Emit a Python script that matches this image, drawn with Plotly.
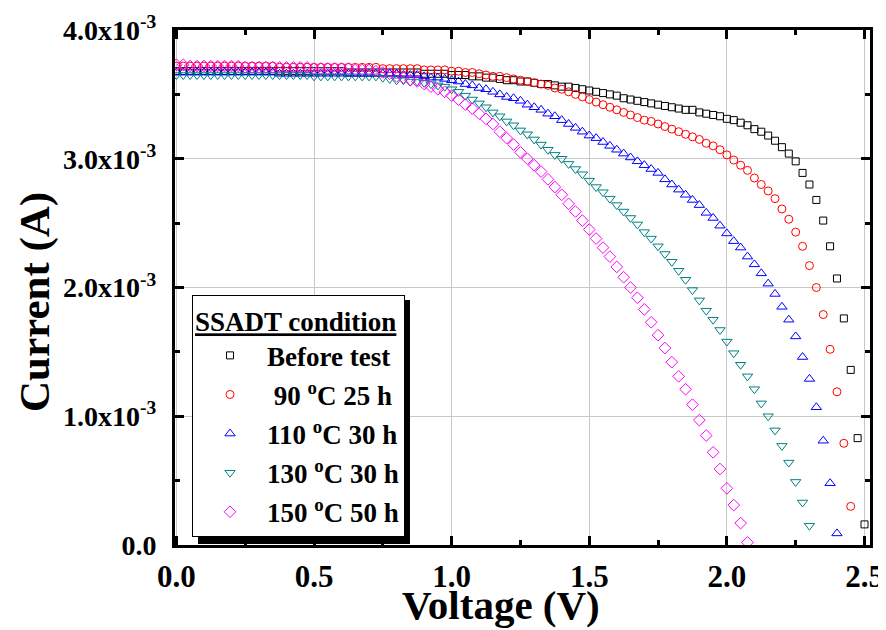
import plotly.graph_objects as go

voltage = [0.000, 0.025, 0.050, 0.075, 0.100, 0.125, 0.150, 0.175, 0.200, 0.225,
           0.250, 0.275, 0.300, 0.325, 0.350, 0.375, 0.400, 0.425, 0.450, 0.475,
           0.500, 0.525, 0.550, 0.575, 0.600, 0.625, 0.650, 0.675, 0.700, 0.725,
           0.750, 0.775, 0.800, 0.825, 0.850, 0.875, 0.900, 0.925, 0.950, 0.975,
           1.000, 1.025, 1.050, 1.075, 1.100, 1.125, 1.150, 1.175, 1.200, 1.225,
           1.250, 1.275, 1.300, 1.325, 1.350, 1.375, 1.400, 1.425, 1.450, 1.475,
           1.500, 1.525, 1.550, 1.575, 1.600, 1.625, 1.650, 1.675, 1.700, 1.725,
           1.750, 1.775, 1.800, 1.825, 1.850, 1.875, 1.900, 1.925, 1.950, 1.975,
           2.000, 2.025, 2.050, 2.075, 2.100, 2.125, 2.150, 2.175, 2.200, 2.225,
           2.250, 2.275, 2.300, 2.325, 2.350, 2.375, 2.400, 2.425, 2.450, 2.475,
           2.500]

# currents in mA
before_test = [3.68, 3.68, 3.68, 3.68, 3.68, 3.68, 3.68, 3.68, 3.68, 3.68,
               3.68, 3.68, 3.68, 3.68, 3.68, 3.68, 3.68, 3.68, 3.68, 3.68,
               3.68, 3.68, 3.68, 3.68, 3.68, 3.67, 3.67, 3.67, 3.67, 3.67,
               3.67, 3.67, 3.67, 3.67, 3.67, 3.67, 3.66, 3.66, 3.66, 3.66,
               3.65, 3.65, 3.65, 3.64, 3.64, 3.63, 3.63, 3.62, 3.61, 3.61,
               3.60, 3.60, 3.59, 3.58, 3.58, 3.57, 3.56, 3.56, 3.55, 3.54,
               3.53, 3.52, 3.51, 3.50, 3.49, 3.47, 3.46, 3.45, 3.44, 3.43,
               3.42, 3.41, 3.40, 3.39, 3.38, 3.38, 3.36, 3.35, 3.34, 3.33,
               3.31, 3.30, 3.28, 3.26, 3.23, 3.21, 3.18, 3.14, 3.09, 3.04,
               2.98, 2.89, 2.80, 2.68, 2.52, 2.32, 2.07, 1.76, 1.36, 0.83,
               0.16]

c90_25h = [3.72, 3.72, 3.72, 3.72, 3.72, 3.72, 3.72, 3.72, 3.72, 3.72,
           3.72, 3.72, 3.72, 3.72, 3.72, 3.71, 3.71, 3.71, 3.71, 3.71,
           3.71, 3.71, 3.71, 3.71, 3.71, 3.71, 3.71, 3.71, 3.71, 3.71,
           3.70, 3.70, 3.70, 3.70, 3.70, 3.70, 3.69, 3.69, 3.69, 3.69,
           3.68, 3.68, 3.67, 3.67, 3.66, 3.65, 3.64, 3.64, 3.63, 3.62,
           3.61, 3.60, 3.59, 3.58, 3.57, 3.55, 3.54, 3.52, 3.50, 3.48,
           3.46, 3.44, 3.42, 3.40, 3.38, 3.36, 3.34, 3.32, 3.30, 3.29,
           3.27, 3.25, 3.23, 3.21, 3.19, 3.17, 3.15, 3.12, 3.10, 3.07,
           3.03, 2.99, 2.95, 2.91, 2.85, 2.80, 2.75, 2.69, 2.61, 2.53,
           2.43, 2.32, 2.17, 2.00, 1.79, 1.52, 1.19, 0.79, 0.30]

c110_30h = [3.67, 3.67, 3.67, 3.67, 3.67, 3.67, 3.67, 3.67, 3.67, 3.67,
            3.67, 3.67, 3.67, 3.67, 3.67, 3.66, 3.66, 3.66, 3.66, 3.66,
            3.66, 3.66, 3.66, 3.66, 3.66, 3.66, 3.66, 3.66, 3.66, 3.66,
            3.66, 3.66, 3.66, 3.65, 3.65, 3.65, 3.64, 3.63, 3.63, 3.62,
            3.61, 3.60, 3.58, 3.57, 3.55, 3.54, 3.52, 3.50, 3.48, 3.47,
            3.45, 3.42, 3.40, 3.38, 3.35, 3.33, 3.30, 3.27, 3.24, 3.21,
            3.18, 3.16, 3.13, 3.10, 3.07, 3.04, 3.01, 2.98, 2.95, 2.92,
            2.89, 2.84, 2.80, 2.76, 2.72, 2.68, 2.64, 2.58, 2.54, 2.48,
            2.42, 2.36, 2.31, 2.24, 2.18, 2.11, 2.03, 1.95, 1.85, 1.75,
            1.62, 1.46, 1.29, 1.07, 0.81, 0.48, 0.09]

c130_30h = [3.65, 3.65, 3.65, 3.65, 3.65, 3.65, 3.65, 3.65, 3.65, 3.65,
            3.65, 3.65, 3.65, 3.65, 3.65, 3.65, 3.65, 3.65, 3.65, 3.65,
            3.64, 3.64, 3.64, 3.64, 3.64, 3.64, 3.64, 3.64, 3.64, 3.64,
            3.63, 3.62, 3.61, 3.61, 3.60, 3.60, 3.59, 3.58, 3.57, 3.56,
            3.54, 3.52, 3.49, 3.46, 3.43, 3.40, 3.36, 3.33, 3.29, 3.26,
            3.22, 3.19, 3.15, 3.11, 3.07, 3.03, 3.00, 2.96, 2.92, 2.88,
            2.83, 2.78, 2.74, 2.69, 2.64, 2.59, 2.54, 2.49, 2.43, 2.38,
            2.32, 2.26, 2.20, 2.13, 2.06, 1.98, 1.90, 1.82, 1.75, 1.67,
            1.58, 1.49, 1.40, 1.31, 1.21, 1.10, 1.00, 0.89, 0.77, 0.64,
            0.49, 0.33, 0.15]

c150_50h = [3.73, 3.73, 3.72, 3.72, 3.72, 3.72, 3.72, 3.72, 3.72, 3.72,
            3.71, 3.71, 3.71, 3.71, 3.71, 3.71, 3.71, 3.71, 3.71, 3.71,
            3.70, 3.70, 3.70, 3.70, 3.70, 3.70, 3.69, 3.69, 3.69, 3.68,
            3.67, 3.66, 3.64, 3.63, 3.61, 3.60, 3.58, 3.56, 3.54, 3.52,
            3.49, 3.46, 3.42, 3.39, 3.35, 3.31, 3.27, 3.21, 3.16, 3.11,
            3.05, 3.00, 2.95, 2.90, 2.84, 2.78, 2.72, 2.65, 2.59, 2.52,
            2.45, 2.38, 2.31, 2.24, 2.16, 2.08, 2.00, 1.92, 1.83, 1.73,
            1.63, 1.53, 1.42, 1.31, 1.21, 1.09, 0.97, 0.85, 0.72, 0.59,
            0.44, 0.31, 0.17, 0.02]

series_names = ["Before test", " 90 <sup>o</sup>C 25 h", "110 <sup>o</sup>C 30 h",
                "130 <sup>o</sup>C 30 h", "150 <sup>o</sup>C 50 h"]
series_data = [before_test, c90_25h, c110_30h, c130_30h, c150_50h]
series_colors = ["#000000", "#ff0000", "#0000ff", "#008080", "#ff00ff"]
series_symbols = ["square-open", "circle-open", "triangle-up-open",
                  "triangle-down-open", "diamond-open"]
series_sizes = [7, 8, 9, 9, 9]

y_tickvals = [0.0, 1.0e-3, 2.0e-3, 3.0e-3, 4.0e-3]
y_ticktext = ["0.0", "1.0x10<sup>-3</sup>", "2.0x10<sup>-3</sup>",
              "3.0x10<sup>-3</sup>", "4.0x10<sup>-3</sup>"]
x_tickvals = [0.0, 0.5, 1.0, 1.5, 2.0, 2.5]
x_ticktext = ["0.0", "0.5", "1.0", "1.5", "2.0", "2.5"]
x_title = "Voltage (V)"
y_title = "Current (A)"

FONT = "Liberation Serif"

fig = go.Figure()
for i, (name, data, col, sym, sz) in enumerate(zip(series_names, series_data,
                                                   series_colors, series_symbols,
                                                   series_sizes)):
    fig.add_trace(go.Scatter(
        x=voltage[:len(data)],
        y=[v * 1e-3 for v in data],
        mode="markers",
        name=name,
        legendgroup=str(i),
        marker=dict(symbol=sym, size=sz, color=col, line=dict(width=1, color=col)),
    ))

axis_common = dict(
    showline=True, linewidth=3, linecolor="black", mirror="ticks",
    ticks="inside", ticklen=9, tickwidth=3, tickcolor="black",
    showgrid=True, gridcolor="#c8c8c8", gridwidth=1,
    zeroline=False, automargin=False,
)

fig.update_xaxes(
    **axis_common,
    range=[-0.005, 2.52],
    tickvals=x_tickvals, ticktext=x_ticktext,
    tickfont=dict(family=FONT, size=31, color="black", weight="bold"),
    ticklabelstandoff=2,
    minor=dict(ticks="inside", ticklen=5, tickwidth=3, tickcolor="black",
               dtick=0.25, showgrid=False),
)
fig.update_yaxes(
    **axis_common,
    range=[0, 4.0e-3],
    tickvals=y_tickvals, ticktext=y_ticktext,
    tickfont=dict(family=FONT, size=28, color="black", weight="bold"),
    ticklabelstandoff=10,
    minor=dict(ticks="inside", ticklen=5, tickwidth=3, tickcolor="black",
               dtick=0.5e-3, showgrid=False),
)

fig.update_layout(
    width=878, height=622,
    margin=dict(l=167, r=16, t=22, b=85),
    paper_bgcolor="white", plot_bgcolor="white",
    showlegend=True,
    legend=dict(
        x=0.0245, y=0.485, xanchor="left", yanchor="top",
        bgcolor="white", bordercolor="black", borderwidth=1,
        font=dict(family=FONT, size=27, color="black", weight="bold"),
        title=dict(text="<u>SSADT condition</u>",
                   font=dict(family=FONT, size=27, color="black", weight="bold")),
        itemwidth=64, tracegroupgap=1,
    ),
    shapes=[dict(type="rect", xref="paper", yref="paper",
                 x0=0.0331, x1=0.3381, y0=0.002, y1=0.4757,
                 fillcolor="black", line=dict(width=0), layer="above")],
    annotations=[
        dict(text=x_title, xref="paper", yref="paper", x=0.469, y=-0.117,
             xanchor="center", yanchor="middle", showarrow=False,
             font=dict(family=FONT, size=41, color="black", weight="bold")),
        dict(text=y_title, xref="paper", yref="paper", x=-0.2014, y=0.472,
             xanchor="center", yanchor="middle", showarrow=False, textangle=-90,
             font=dict(family=FONT, size=43, color="black", weight="bold")),
    ],
)

fig.write_html("out.html")
